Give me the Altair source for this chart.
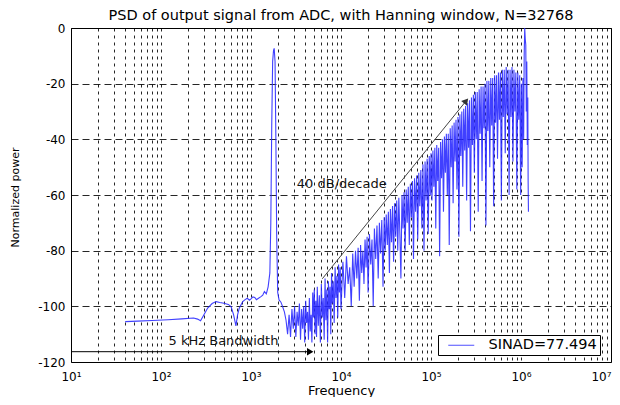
import altair as alt
import pandas as pd

FONT = "DejaVu Sans"

# ---------------- data ----------------
# low-frequency floor and the in-band test tone
low_hz = [40, 55, 80, 120, 170, 230, 255, 275, 300, 330, 370, 410, 450, 500, 560, 600,
          640, 680, 710, 740, 810, 860, 910, 960, 1000, 1050, 1100, 1150, 1200, 1290,
          1350, 1410, 1480, 1550, 1620, 1660, 1700, 1740, 1780, 1810, 1850, 1890, 1930,
          1980, 2050, 2150, 2240, 2350]
low_db = [-105.5, -105.3, -105.1, -104.8, -104.5, -104.2, -104.6, -105.2, -103, -100.6,
          -99, -98.3, -98.6, -98.9, -99.3, -100.1, -103, -107, -103, -100.7, -98.3, -97.6,
          -97.1, -97.8, -97.3, -96.6, -96.8, -97.6, -97.2, -96.5, -96.0, -94.7, -95.5, -93,
          -88, -70, -35, -12, -8, -7.3, -12, -40, -75, -95, -97.7, -98.5, -100, -102]

# shaped noise, 2.4 kHz - 10 kHz
a_hz = [2450, 2550, 2650, 2750, 2850, 2950, 3050, 3150, 3250, 3350, 3450, 3550, 3650, 3750,
        3850, 3950, 4050, 4150, 4250, 4350, 4450, 4550, 4650, 4750, 4850, 4950, 5050, 5150,
        5250, 5350, 5450, 5600, 5750, 5900, 6050, 6200, 6350, 6500, 6650, 6800, 6950, 7100,
        7250, 7400, 7550, 7700, 7850, 8000, 8200, 8400, 8600, 8800, 9000, 9200, 9400, 9600,
        9800, 10000]
a_db = [-105, -110, -103, -111, -101, -108, -100, -111, -102, -107, -99, -112, -101, -108,
        -100, -113, -98, -106, -102, -112, -97, -109, -103, -113, -95, -104, -94, -110,
        -98, -111, -93, -107, -96, -113, -92, -104, -97, -112, -90, -105, -94, -113,
        -91, -101, -93, -110, -88, -99, -91, -106, -86, -97, -89, -104, -85, -95,
        -86, -101]

# shaped noise, 10 kHz - 30 kHz
b_hz = [10500, 11000, 11500, 12000, 12500, 13000, 13500, 14000, 14500, 15000, 15500, 16000,
        16500, 17000, 17500, 18000, 18500, 19000, 19500, 20000, 20700, 21400, 22100, 22800,
        23500, 24300, 25100, 25900, 26700, 27500, 28400, 29300, 30200]
b_db = [-84, -97, -82, -92, -86, -100, -81, -93, -80, -90, -79, -98, -78, -88, -80, -92,
        -76, -86, -75, -95, -74, -85, -76, -100, -72, -83, -71, -90, -70, -81, -69, -93, -68]

# shaped noise, 30 kHz - 100 kHz
c_hz = [31000, 31800, 32700, 33600, 34500, 35400, 36400, 37400, 38400, 39400, 40500, 41600,
        42700, 43900, 45100, 46300, 47600, 48900, 50200, 51600, 53000, 54400, 55900, 57400,
        59000, 60600, 62200, 63900, 65600, 67400, 69300, 71200, 73100, 75100, 77100, 79200,
        81400, 83600, 85900, 88200, 90600, 93100, 95600, 98200]
c_db = [-80, -67, -78, -66, -88, -65, -77, -64, -84, -63, -75, -62, -80, -61, -74, -90,
        -60, -72, -59, -80, -58, -70, -57, -78, -56, -68, -55, -83, -54, -66, -53, -76,
        -52, -64, -51, -72, -49, -80, -48, -62, -47, -74, -46, -60]

# shaped noise, 100 kHz - 300 kHz
d_hz = [100000, 102500, 105000, 107600, 110300, 113000, 115800, 118700, 121700, 124700,
        127800, 131000, 134300, 137600, 141000, 144500, 148100, 151800, 155600, 159500,
        163500, 167600, 171800, 176100, 180500, 185000, 189600, 194300, 199200, 204200,
        209300, 214500, 219900, 225400, 231000, 236800, 242700, 248800, 255000, 261400,
        267900, 274600, 281500, 288500, 295700, 303100]
d_db = [-45, -62, -44, -57, -43, -72, -42, -55, -43, -82, -41, -54, -40, -66, -39, -52,
        -38, -60, -38, -78, -36, -50, -35, -63, -34, -48, -33, -58, -32, -75, -31, -46,
        -30, -57, -29, -44, -28, -62, -27, -43, -26, -73, -25, -42, -24, -52]

# shaped noise, 300 kHz - 1 MHz
e_hz = [310700, 318500, 326400, 334600, 343000, 351500, 360300, 369300, 378600, 388000,
        397700, 407700, 417900, 428300, 439000, 450000, 461300, 472800, 484600, 496700,
        509100, 521900, 534900, 548300, 562000, 576100, 590500, 605200, 620300, 635800,
        651700, 668000, 684700, 701900, 719400, 737400, 755800, 774700, 794100, 813900,
        834300, 855200, 876600, 898500, 921000, 944000, 967600, 991800]
e_db = [-23, -40, -23, -66, -22, -38, -21, -55, -21, -36, -20, -71, -19, -37, -19, -50,
        -18, -35, -18, -64, -17, -34, -17, -47, -16, -33, -16, -62, -15, -32, -15, -45,
        -14, -31, -15, -60, -15, -32, -14, -48, -15, -30, -16, -58, -16, -33, -17, -60]

# out-of-band tone near 1.1 MHz and the end of the spectrum
tail_hz = [1010000, 1030000, 1050000, 1070000, 1085000, 1100000, 1115000, 1130000,
           1145000, 1160000, 1175000, 1190000, 1200000, 1210000]
tail_db = [-20, -50, -18, -40, -10, 0, -4, -6, -30, -12, -42, -25, -55, -66]

series_name = "SINAD=77.494"
chart_title = ["PSD of output signal from ADC, with Hanning window, N=32768"]
x_title = "Frequency"
y_title = "Normalized power"

decade_ticks = [10, 100, 1000, 10000, 100000, 1000000, 10000000]
power_ticks = [-120, -100, -80, -60, -40, -20, 0]

band_text = ["5 kHz Bandwidth"]
band_text_hz = [495]
band_text_db = [-112.5]
band_from_hz = [10]
band_to_hz = [4550]
band_db = [-116.3]

slope_text = ["40 dB/decade"]
slope_text_hz = [10200]
slope_text_db = [-56]
slope_from_hz = [6200]
slope_from_db = [-90.1]
slope_to_hz = [245500]
slope_to_db = [-26.2]

# ---------------- tables ----------------
freq_hz = low_hz + a_hz + b_hz + c_hz + d_hz + e_hz + tail_hz
power_db = low_db + a_db + b_db + c_db + d_db + e_db + tail_db
assert len(freq_hz) == len(power_db)

psd = pd.DataFrame({"freq": freq_hz, "power": power_db,
                    "order": list(range(len(freq_hz))), "series": series_name})

grid_hz = [m * d for d in decade_ticks[:-1] for m in range(1, 10)] + [decade_ticks[-1]]

band_line = pd.DataFrame({"freq": band_from_hz, "freq2": band_to_hz, "power": band_db})
band_head = pd.DataFrame({"freq": band_to_hz, "power": band_db})
band_lab = pd.DataFrame({"freq": band_text_hz, "power": band_text_db, "t": band_text})
slope_line = pd.DataFrame({"freq": slope_from_hz, "freq2": slope_to_hz,
                           "power": slope_from_db, "power2": slope_to_db})
slope_head = pd.DataFrame({"freq": slope_to_hz, "power": slope_to_db})
slope_lab = pd.DataFrame({"freq": slope_text_hz, "power": slope_text_db, "t": slope_text})
title_df = pd.DataFrame({"t": chart_title})

# ---------------- scales & axes ----------------
xscale = alt.Scale(type="log", domain=[10, 10000000], nice=False)
yscale = alt.Scale(domain=[-120, 0], nice=False)

dec = "[10,100,1000,10000,100000,1000000,10000000]"
sup = "['\u00b9','\u00b2','\u00b3','\u2074','\u2075','\u2076','\u2077']"
x_label_expr = f"indexof({dec}, datum.value) < 0 ? '' : '10' + {sup}[indexof({dec}, datum.value)]"

x_axis = alt.Axis(values=grid_hz, labelExpr=x_label_expr, title=x_title,
                  grid=True, gridDash=[3, 4], gridColor="black", gridOpacity=0.85,
                  gridWidth=1, ticks=False, domain=False, labelOverlap=False,
                  labelFlush=False, labelPadding=9, labelFont=FONT, labelFontSize=12,
                  labelAlign={"condition": {"test": f"datum.value >= {decade_ticks[-1]}",
                                            "value": "right"},
                              "value": "center"},
                  labelColor="black", titleFont=FONT, titleFontSize=13,
                  titleFontWeight="normal", titleColor="black", titleY=32,
                  titleBaseline="alphabetic")
y_axis = alt.Axis(values=power_ticks, labelExpr="'' + datum.value", title=y_title,
                  grid=True, gridDash=[7, 4], gridColor="black", gridOpacity=0.85,
                  gridWidth=1, ticks=False, domain=False, labelPadding=6,
                  labelFont=FONT, labelFontSize=12, labelColor="black",
                  titleFont=FONT, titleFontSize=11, titleFontWeight="normal",
                  titleColor="black", titleX=-56, titleY=169, titleAngle=270,
                  titleAlign="center", titleBaseline="middle")

legend = alt.Legend(title=None, orient="none", legendX=367, legendY=307,
                    symbolType="M-2,0H2", symbolSize=169, symbolStrokeWidth=1,
                    symbolOpacity=0.8, labelFont=FONT, labelFontSize=14.5,
                    labelColor="black", strokeColor="black", fillColor="white",
                    padding=3, symbolOffset=13, labelOffset=20, cornerRadius=0)

X = alt.X("freq:Q", scale=xscale)
Y = alt.Y("power:Q", scale=yscale)

line = alt.Chart(psd).mark_line(strokeWidth=1.1, opacity=0.88).encode(
    x=alt.X("freq:Q", scale=xscale, axis=x_axis),
    y=alt.Y("power:Q", scale=yscale, axis=y_axis),
    order="order:Q",
    color=alt.Color("series:N", scale=alt.Scale(range=["#2626ff"]), legend=legend),
)

bw_rule = alt.Chart(band_line).mark_rule(color="black", strokeWidth=1).encode(
    x=X, x2="freq2:Q", y=Y)
bw_head = alt.Chart(band_head).mark_point(shape="triangle-right", filled=True, size=55,
                                          color="black", opacity=1).encode(x=X, y=Y)
bw_text = alt.Chart(band_lab).mark_text(font=FONT, fontSize=13, color="#111",
                                        align="center", baseline="middle").encode(
    x=X, y=Y, text="t:N")

sl_rule = alt.Chart(slope_line).mark_rule(color="#444", strokeWidth=1).encode(
    x=X, x2="freq2:Q", y=Y, y2="power2:Q")
sl_head = alt.Chart(slope_head).mark_point(shape="triangle-up", angle=39, filled=True,
                                           size=55, color="#333", opacity=1).encode(x=X, y=Y)
sl_text = alt.Chart(slope_lab).mark_text(font=FONT, fontSize=13, color="#111",
                                         align="center", baseline="middle").encode(
    x=X, y=Y, text="t:N")

# chart title, placed just above the plot frame
title_mark = alt.Chart(title_df).mark_text(font=FONT, fontSize=14.5, color="black",
                                           align="center", baseline="middle").encode(
    x=alt.value(270), y=alt.value(-12), text="t:N")

chart = alt.layer(line, bw_rule, bw_head, bw_text, sl_rule, sl_head, sl_text,
                  title_mark).properties(
    width=540, height=334,
    padding={"left": 63, "top": 20, "right": 1, "bottom": 35},
    autosize=alt.AutoSizeParams(type="none"),
    background="white",
).configure_view(stroke="black", strokeWidth=1)

chart.save("out.html", embed_options={"renderer": "svg", "actions": False})
